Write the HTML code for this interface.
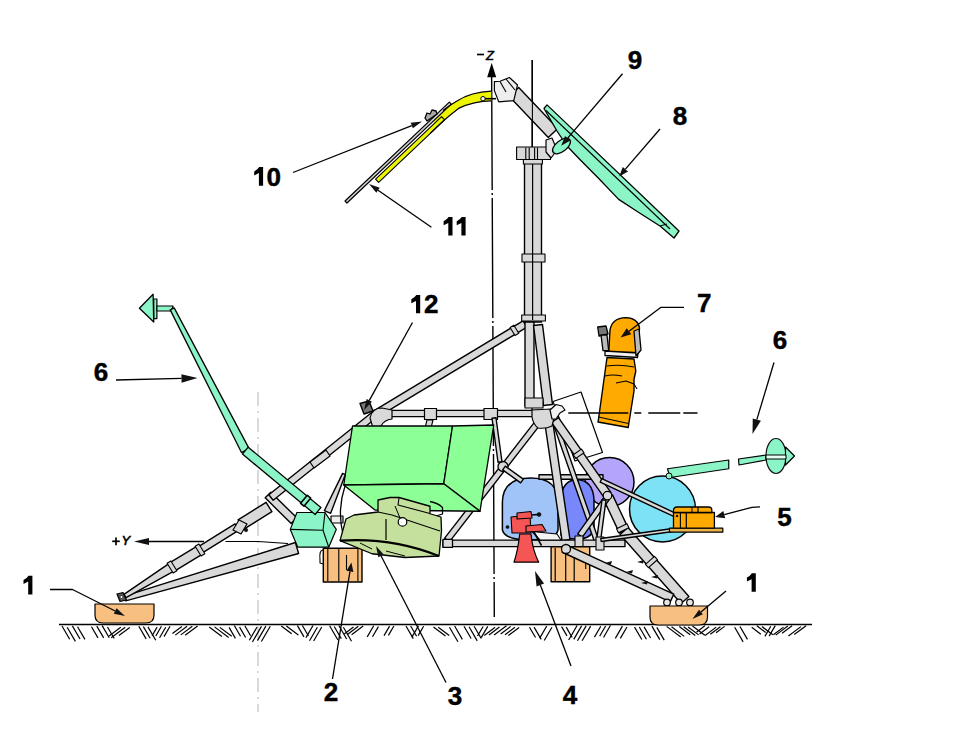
<!DOCTYPE html>
<html><head><meta charset="utf-8"><style>
html,body{margin:0;padding:0;background:#fff;}
svg{display:block;}
text{font-family:"Liberation Sans", sans-serif;fill:#000;}
</style></head><body>
<svg width="960" height="737" viewBox="0 0 960 737">
<rect width="960" height="737" fill="#fff"/>
<line x1="491.6" y1="70" x2="494.3" y2="617" stroke="#000" stroke-width="1.4" stroke-dasharray="120,3,2,3"/>
<polygon points="491.7,62.7 487.2,77.2 496.2,77.2" fill="#000"/>
<line x1="477" y1="54.5" x2="484" y2="54.5" stroke="#000" stroke-width="1.7" />
<text x="486" y="59.8" font-size="13" font-style="italic" stroke="#000" stroke-width="0.5">Z</text>
<line x1="532" y1="60" x2="532" y2="410" stroke="#000" stroke-width="1.2" stroke-dasharray="90,3,2,3"/>
<line x1="258" y1="392" x2="258" y2="712" stroke="#aaa" stroke-width="0.9" stroke-dasharray="14,5,2,5"/>
<polyline points="204,541.5 149,541.5" fill="none" stroke="#000" stroke-width="1.3" stroke-linejoin="round" />
<polygon points="134,541.5 149,538 149,545" fill="#111"/>
<polyline points="225.5,541.5 258,541.5 288,543.5" fill="none" stroke="#000" stroke-width="1.2" stroke-linejoin="round" />
<line x1="112.2" y1="541.3" x2="119.8" y2="541.3" stroke="#000" stroke-width="1.7" />
<line x1="116" y1="537.4" x2="116" y2="545.2" stroke="#000" stroke-width="1.7" />
<text x="121.5" y="545.3" font-size="13" font-style="italic" stroke="#000" stroke-width="0.6">Y</text>
<line x1="59" y1="624.5" x2="812" y2="624.5" stroke="#000" stroke-width="1.4" />
<line x1="62" y1="626.05" x2="69.67" y2="639.24" stroke="#000" stroke-width="1.2" />
<line x1="67.18" y1="627.28" x2="75.39" y2="641.39" stroke="#000" stroke-width="1.2" />
<line x1="72.36" y1="625.87" x2="80.03" y2="639.06" stroke="#000" stroke-width="1.2" />
<line x1="77.54" y1="626.73" x2="84.9" y2="639.38" stroke="#000" stroke-width="1.2" />
<line x1="91.49" y1="626.77" x2="97.95" y2="637.89" stroke="#000" stroke-width="1.2" />
<line x1="96.82" y1="626.12" x2="103.67" y2="637.9" stroke="#000" stroke-width="1.2" />
<line x1="102.15" y1="625.61" x2="109.22" y2="637.76" stroke="#000" stroke-width="1.2" />
<line x1="107.48" y1="626.97" x2="114.19" y2="638.52" stroke="#000" stroke-width="1.2" />
<line x1="120.74" y1="627.23" x2="109.06" y2="635.99" stroke="#000" stroke-width="1.2" />
<line x1="125.23" y1="627.28" x2="111.18" y2="637.82" stroke="#000" stroke-width="1.2" />
<line x1="129.73" y1="627.48" x2="118.94" y2="635.57" stroke="#000" stroke-width="1.2" />
<line x1="138.79" y1="626.21" x2="146.14" y2="638.85" stroke="#000" stroke-width="1.2" />
<line x1="143.37" y1="626.61" x2="150.18" y2="638.32" stroke="#000" stroke-width="1.2" />
<line x1="147.95" y1="626.87" x2="155.75" y2="640.28" stroke="#000" stroke-width="1.2" />
<line x1="157.09" y1="627.12" x2="152.07" y2="635.76" stroke="#000" stroke-width="1.2" />
<line x1="161.4" y1="626.32" x2="155.8" y2="635.95" stroke="#000" stroke-width="1.2" />
<line x1="165.71" y1="627.23" x2="159.56" y2="637.81" stroke="#000" stroke-width="1.2" />
<line x1="170.03" y1="626.28" x2="164.01" y2="636.63" stroke="#000" stroke-width="1.2" />
<line x1="181.87" y1="626.47" x2="172.4" y2="633.57" stroke="#000" stroke-width="1.2" />
<line x1="187.1" y1="626.26" x2="175.28" y2="635.12" stroke="#000" stroke-width="1.2" />
<line x1="192.33" y1="626.22" x2="180.8" y2="634.87" stroke="#000" stroke-width="1.2" />
<line x1="197.56" y1="625.99" x2="185.18" y2="635.27" stroke="#000" stroke-width="1.2" />
<line x1="209.24" y1="626.96" x2="221.91" y2="636.46" stroke="#000" stroke-width="1.2" />
<line x1="214.53" y1="626.88" x2="228.66" y2="637.48" stroke="#000" stroke-width="1.2" />
<line x1="219.82" y1="627.36" x2="231.76" y2="636.31" stroke="#000" stroke-width="1.2" />
<line x1="229.07" y1="627.42" x2="235.41" y2="638.33" stroke="#000" stroke-width="1.2" />
<line x1="234.33" y1="625.54" x2="240.51" y2="636.18" stroke="#000" stroke-width="1.2" />
<line x1="239.58" y1="627.11" x2="245.63" y2="637.52" stroke="#000" stroke-width="1.2" />
<line x1="244.83" y1="625.71" x2="250.63" y2="635.68" stroke="#000" stroke-width="1.2" />
<line x1="257.06" y1="626.95" x2="249.33" y2="640.25" stroke="#000" stroke-width="1.2" />
<line x1="261.47" y1="626.36" x2="252.41" y2="641.95" stroke="#000" stroke-width="1.2" />
<line x1="265.88" y1="626.17" x2="257.47" y2="640.63" stroke="#000" stroke-width="1.2" />
<line x1="270.28" y1="626.24" x2="261.38" y2="641.55" stroke="#000" stroke-width="1.2" />
<line x1="281.29" y1="625.96" x2="291.65" y2="633.73" stroke="#000" stroke-width="1.2" />
<line x1="286.36" y1="626.04" x2="298.36" y2="635.04" stroke="#000" stroke-width="1.2" />
<line x1="297.43" y1="625.63" x2="303.96" y2="636.86" stroke="#000" stroke-width="1.2" />
<line x1="302.36" y1="625.52" x2="308.46" y2="636" stroke="#000" stroke-width="1.2" />
<line x1="312.99" y1="625.55" x2="305.98" y2="637.6" stroke="#000" stroke-width="1.2" />
<line x1="317.38" y1="627.21" x2="309.53" y2="640.7" stroke="#000" stroke-width="1.2" />
<line x1="321.76" y1="627.06" x2="313.62" y2="641.06" stroke="#000" stroke-width="1.2" />
<line x1="329.62" y1="625.68" x2="337.92" y2="639.95" stroke="#000" stroke-width="1.2" />
<line x1="334.22" y1="626.5" x2="341.28" y2="638.63" stroke="#000" stroke-width="1.2" />
<line x1="338.82" y1="625.56" x2="346.65" y2="639.02" stroke="#000" stroke-width="1.2" />
<line x1="343.42" y1="627.29" x2="351.54" y2="641.25" stroke="#000" stroke-width="1.2" />
<line x1="353.51" y1="626.94" x2="344.23" y2="633.9" stroke="#000" stroke-width="1.2" />
<line x1="358.34" y1="626.27" x2="347.1" y2="634.7" stroke="#000" stroke-width="1.2" />
<line x1="363.17" y1="626.04" x2="351.59" y2="634.73" stroke="#000" stroke-width="1.2" />
<line x1="373.69" y1="625.76" x2="367.23" y2="636.87" stroke="#000" stroke-width="1.2" />
<line x1="378.39" y1="626.59" x2="372.51" y2="636.71" stroke="#000" stroke-width="1.2" />
<line x1="389.56" y1="626.17" x2="384.04" y2="635.67" stroke="#000" stroke-width="1.2" />
<line x1="393.86" y1="626.01" x2="388.43" y2="635.35" stroke="#000" stroke-width="1.2" />
<line x1="405.99" y1="626.06" x2="413.29" y2="638.63" stroke="#000" stroke-width="1.2" />
<line x1="410.65" y1="625.95" x2="416.61" y2="636.21" stroke="#000" stroke-width="1.2" />
<line x1="418.42" y1="625.88" x2="411.76" y2="637.33" stroke="#000" stroke-width="1.2" />
<line x1="423.61" y1="626.27" x2="418.14" y2="635.67" stroke="#000" stroke-width="1.2" />
<line x1="433.45" y1="627.08" x2="445.48" y2="636.1" stroke="#000" stroke-width="1.2" />
<line x1="438.27" y1="627.25" x2="449.21" y2="635.46" stroke="#000" stroke-width="1.2" />
<line x1="449.46" y1="627.22" x2="457.91" y2="641.76" stroke="#000" stroke-width="1.2" />
<line x1="454.64" y1="626.06" x2="462.35" y2="639.34" stroke="#000" stroke-width="1.2" />
<line x1="464" y1="626.26" x2="471.14" y2="638.53" stroke="#000" stroke-width="1.2" />
<line x1="469.05" y1="626.78" x2="477.24" y2="640.86" stroke="#000" stroke-width="1.2" />
<line x1="474.1" y1="626.24" x2="481.2" y2="638.46" stroke="#000" stroke-width="1.2" />
<line x1="483.1" y1="626.45" x2="477.55" y2="636" stroke="#000" stroke-width="1.2" />
<line x1="487.76" y1="626.35" x2="481.2" y2="637.65" stroke="#000" stroke-width="1.2" />
<line x1="495.1" y1="627.33" x2="484.26" y2="635.46" stroke="#000" stroke-width="1.2" />
<line x1="499.48" y1="627.09" x2="488.96" y2="634.98" stroke="#000" stroke-width="1.2" />
<line x1="506.51" y1="625.69" x2="494.1" y2="635.01" stroke="#000" stroke-width="1.2" />
<line x1="510.72" y1="626.38" x2="500.67" y2="633.92" stroke="#000" stroke-width="1.2" />
<line x1="514.92" y1="627.2" x2="504.97" y2="634.67" stroke="#000" stroke-width="1.2" />
<line x1="519.13" y1="627.46" x2="508.38" y2="635.52" stroke="#000" stroke-width="1.2" />
<line x1="529.5" y1="627.22" x2="535.5" y2="637.53" stroke="#000" stroke-width="1.2" />
<line x1="534.07" y1="627.15" x2="541.2" y2="639.42" stroke="#000" stroke-width="1.2" />
<line x1="546.77" y1="625.99" x2="539.7" y2="638.15" stroke="#000" stroke-width="1.2" />
<line x1="551.95" y1="627.24" x2="544.23" y2="640.52" stroke="#000" stroke-width="1.2" />
<line x1="561.6" y1="626.59" x2="567" y2="635.89" stroke="#000" stroke-width="1.2" />
<line x1="566.18" y1="627.15" x2="572.19" y2="637.5" stroke="#000" stroke-width="1.2" />
<line x1="577.1" y1="625.56" x2="568.68" y2="640.05" stroke="#000" stroke-width="1.2" />
<line x1="581.62" y1="625.87" x2="573.74" y2="639.42" stroke="#000" stroke-width="1.2" />
<line x1="586.13" y1="625.91" x2="577.5" y2="640.75" stroke="#000" stroke-width="1.2" />
<line x1="590.65" y1="626.08" x2="582.08" y2="640.82" stroke="#000" stroke-width="1.2" />
<line x1="600.79" y1="626.21" x2="594.44" y2="637.13" stroke="#000" stroke-width="1.2" />
<line x1="605.6" y1="625.99" x2="599.63" y2="636.26" stroke="#000" stroke-width="1.2" />
<line x1="610.41" y1="625.53" x2="603.49" y2="637.43" stroke="#000" stroke-width="1.2" />
<line x1="622.4" y1="626.15" x2="615.32" y2="638.33" stroke="#000" stroke-width="1.2" />
<line x1="626.96" y1="626.94" x2="620.32" y2="638.37" stroke="#000" stroke-width="1.2" />
<line x1="634.54" y1="627.1" x2="641.79" y2="639.57" stroke="#000" stroke-width="1.2" />
<line x1="639.3" y1="627" x2="646.41" y2="639.23" stroke="#000" stroke-width="1.2" />
<line x1="644.06" y1="626.83" x2="650.55" y2="638" stroke="#000" stroke-width="1.2" />
<line x1="651.93" y1="626.14" x2="659.77" y2="639.62" stroke="#000" stroke-width="1.2" />
<line x1="656.83" y1="627.36" x2="664.24" y2="640.1" stroke="#000" stroke-width="1.2" />
<line x1="666.61" y1="626.36" x2="680.77" y2="636.98" stroke="#000" stroke-width="1.2" />
<line x1="671.52" y1="626.85" x2="684.23" y2="636.39" stroke="#000" stroke-width="1.2" />
<line x1="679.3" y1="626.6" x2="690.22" y2="634.79" stroke="#000" stroke-width="1.2" />
<line x1="683.69" y1="626.73" x2="695.27" y2="635.41" stroke="#000" stroke-width="1.2" />
<line x1="688.08" y1="626.95" x2="698.65" y2="634.87" stroke="#000" stroke-width="1.2" />
<line x1="692.47" y1="626.05" x2="704.85" y2="635.34" stroke="#000" stroke-width="1.2" />
<line x1="704.85" y1="625.84" x2="696.43" y2="632.16" stroke="#000" stroke-width="1.2" />
<line x1="709.09" y1="626.83" x2="699.59" y2="633.96" stroke="#000" stroke-width="1.2" />
<line x1="716.19" y1="627.13" x2="705.1" y2="635.45" stroke="#000" stroke-width="1.2" />
<line x1="720.41" y1="626.69" x2="710.31" y2="634.27" stroke="#000" stroke-width="1.2" />
<line x1="724.63" y1="626.36" x2="716.02" y2="632.82" stroke="#000" stroke-width="1.2" />
<line x1="734.68" y1="627.32" x2="743.12" y2="641.83" stroke="#000" stroke-width="1.2" />
<line x1="739.96" y1="626.5" x2="747.47" y2="639.42" stroke="#000" stroke-width="1.2" />
<line x1="751.71" y1="627.32" x2="760.85" y2="634.18" stroke="#000" stroke-width="1.2" />
<line x1="756.82" y1="625.78" x2="765.69" y2="632.44" stroke="#000" stroke-width="1.2" />
<line x1="761.93" y1="626.6" x2="772.86" y2="634.8" stroke="#000" stroke-width="1.2" />
<line x1="770.77" y1="626.3" x2="764.89" y2="636.41" stroke="#000" stroke-width="1.2" />
<line x1="775.24" y1="625.65" x2="769.13" y2="636.16" stroke="#000" stroke-width="1.2" />
<line x1="783.54" y1="627.13" x2="773.42" y2="634.72" stroke="#000" stroke-width="1.2" />
<line x1="787.81" y1="626.05" x2="775.71" y2="635.12" stroke="#000" stroke-width="1.2" />
<line x1="792.09" y1="625.72" x2="782.09" y2="633.22" stroke="#000" stroke-width="1.2" />
<line x1="800.93" y1="626.62" x2="788.44" y2="635.99" stroke="#000" stroke-width="1.2" />
<line x1="806.11" y1="625.69" x2="794.26" y2="634.59" stroke="#000" stroke-width="1.2" />
<polygon points="553,401.5 581,392 602.5,452.5 575,461" fill="none" stroke="#000" stroke-width="1.2" stroke-linejoin="round" />
<circle cx="609.5" cy="482" r="24.5" fill="#b4a4fa" stroke="#000" stroke-width="1.5"/>
<circle cx="662.5" cy="509" r="33" fill="#7de2f5" stroke="#000" stroke-width="1.5"/>
<path d="M561,535 L560.6,500 Q562,479.7 577,479.7 Q593,480 594,500 L594,528 Q592,539 577,539 Q563,539 561,535 Z" fill="#7888fa" stroke="#000" stroke-width="1.5" stroke-linejoin="round" />
<path d="M502.4,530 L502.4,502 Q503,478 530.6,478 Q558,478 558,502 L558,530 Q556,540 530,540 Q505,540 502.4,530 Z" fill="#a0c4f8" stroke="#000" stroke-width="1.5" stroke-linejoin="round" />
<polygon points="667.5,468.75 728.75,460 728.75,468.75 670,477.5" fill="#8cf5c8" stroke="#000" stroke-width="1.2" stroke-linejoin="round" />
<circle cx="669" cy="476" r="3" fill="#8cf5c8" stroke="#000" stroke-width="1"/>
<polygon points="738.5,459 766,455 766,460 739,465" fill="#8cf5c8" stroke="#000" stroke-width="1.2" stroke-linejoin="round" />
<ellipse cx="776" cy="456" rx="10" ry="17.5" fill="#8cf5c8" stroke="#111" stroke-width="1.2"/>
<polygon points="785.5,447 794.5,456 785.5,465" fill="#8cf5c8" stroke="#000" stroke-width="1.2" stroke-linejoin="round" />
<polygon points="766,455 786,455 786,459 766,459" fill="#e8fff4" stroke="#000" stroke-width="1.0" stroke-linejoin="round" />
<polygon points="125.7,600.9 298.62,553.52 295.38,542.48 124.3,596.1" fill="#d9d9d9" stroke="#000" stroke-width="1.4" stroke-linejoin="round" />
<polygon points="126.05,597.7 174.36,570.83 169.64,563.17 123.95,594.3" fill="#d9d9d9" stroke="#000" stroke-width="1.4" stroke-linejoin="round" />
<polygon points="117,594 123,592.5 126.5,600 120,601.5" fill="#555" stroke="#000" stroke-width="1.2" stroke-linejoin="round" />
<circle cx="121.5" cy="597" r="1.5" fill="#fff" stroke="#000" stroke-width="0.6"/>
<polygon points="174.47,571.06 202.47,554.06 197.53,545.94 169.53,562.94" fill="#d9d9d9" stroke="#000" stroke-width="1.4" stroke-linejoin="round" />
<polygon points="201.98,553.18 238.98,530.18 235.02,523.82 198.02,546.82" fill="#d9d9d9" stroke="#000" stroke-width="1.4" stroke-linejoin="round" />
<polygon points="243.91,529.16 271.91,511.66 266.09,502.34 238.09,519.84" fill="#d9d9d9" stroke="#000" stroke-width="1.4" stroke-linejoin="round" />
<polygon points="173.15,573.05 176.89,570.74 170.85,560.95 167.11,563.26" fill="#d9d9d9" stroke="#000" stroke-width="1.1" stroke-linejoin="round" />
<polygon points="201.1,556.06 204.86,553.77 198.9,543.94 195.14,546.23" fill="#d9d9d9" stroke="#000" stroke-width="1.1" stroke-linejoin="round" />
<polygon points="233,530 239,520 247,524 241,534" fill="#d9d9d9" stroke="#000" stroke-width="1.2" stroke-linejoin="round" />
<circle cx="246" cy="530" r="1.8" fill="#111" stroke="#000" stroke-width="0.5"/>
<polygon points="265.19,497.84 291.19,523.54 296.81,517.86 270.81,492.16" fill="#d9d9d9" stroke="#000" stroke-width="1.4" stroke-linejoin="round" />
<polygon points="370.82,413.27 268.82,494.77 273.18,500.23 375.18,418.73" fill="#d9d9d9" stroke="#000" stroke-width="1.4" stroke-linejoin="round" />
<polygon points="310,462 326,450 330,456 314,468" fill="#d9d9d9" stroke="#000" stroke-width="1.2" stroke-linejoin="round" />
<polygon points="375.94,418.21 526.94,327.21 523.06,320.79 372.06,411.79" fill="#d9d9d9" stroke="#000" stroke-width="1.4" stroke-linejoin="round" />
<polygon points="515,335.57 518.77,333.3 513.86,325.17 510.09,327.44" fill="#d9d9d9" stroke="#000" stroke-width="1.1" stroke-linejoin="round" />
<polygon points="372,416.65 540,416.65 540,410.35 372,410.35" fill="#d9d9d9" stroke="#000" stroke-width="1.4" stroke-linejoin="round" />
<polygon points="424.5,408.5 436.5,408.5 436.5,419.5 424.5,419.5" fill="#d9d9d9" stroke="#000" stroke-width="1.2" stroke-linejoin="round" />
<polygon points="427,420 433,420 431,428 425,428" fill="#d9d9d9" stroke="#000" stroke-width="1.1" stroke-linejoin="round" />
<polygon points="484,408.5 497.5,408.5 497.5,419.5 484,419.5" fill="#d9d9d9" stroke="#000" stroke-width="1.2" stroke-linejoin="round" />
<path d="M370,418 Q372,408 382,408 L392,410 L392,419 Q384,420 381,426 L373,428 Z" fill="#d9d9d9" stroke="#000" stroke-width="1.2" stroke-linejoin="round" />
<polygon points="360,403.5 369,401 373,411 364,414" fill="#777" stroke="#000" stroke-width="1.4" stroke-linejoin="round" />
<polygon points="537.63,418.16 444.63,538.16 449.37,541.84 542.37,421.84" fill="#d9d9d9" stroke="#000" stroke-width="1.4" stroke-linejoin="round" />
<circle cx="503" cy="466.5" r="5" fill="#d9d9d9" stroke="#000" stroke-width="1.3"/>
<polygon points="502.68,469.82 520.68,482.82 523.32,479.18 505.32,466.18" fill="#d9d9d9" stroke="#000" stroke-width="1.4" stroke-linejoin="round" />
<polygon points="492.02,418.27 498.02,462.27 501.98,461.73 495.98,417.73" fill="#d9d9d9" stroke="#000" stroke-width="1.4" stroke-linejoin="round" />
<polygon points="539,479.25 603,479.25 603,474.75 539,474.75" fill="#d9d9d9" stroke="#000" stroke-width="1.4" stroke-linejoin="round" />
<polygon points="545.04,424.58 562.04,540.58 569.96,539.42 552.96,423.42" fill="#d9d9d9" stroke="#000" stroke-width="1.4" stroke-linejoin="round" />
<polygon points="553.88,425.74 595.88,545.74 600.12,544.26 558.12,424.26" fill="#d9d9d9" stroke="#000" stroke-width="1.4" stroke-linejoin="round" />
<polygon points="551.52,422.44 604.02,497.44 610.98,492.56 558.48,417.56" fill="#d9d9d9" stroke="#000" stroke-width="1.4" stroke-linejoin="round" />
<polygon points="573.27,454.82 575.79,458.42 583.98,452.68 581.46,449.08" fill="#d9d9d9" stroke="#000" stroke-width="1.1" stroke-linejoin="round" />
<polygon points="603.48,499.13 619.48,533.13 628.52,528.87 612.52,494.87" fill="#d9d9d9" stroke="#000" stroke-width="1.4" stroke-linejoin="round" />
<polygon points="620.07,534.48 681.07,603.48 688.93,596.52 627.93,527.52" fill="#d9d9d9" stroke="#000" stroke-width="1.4" stroke-linejoin="round" />
<polygon points="616.58,528.74 618.45,532.72 628.86,527.82 626.99,523.84" fill="#d9d9d9" stroke="#000" stroke-width="1.1" stroke-linejoin="round" />
<polygon points="645.5,564.38 648.41,567.67 657.4,559.72 654.49,556.43" fill="#d9d9d9" stroke="#000" stroke-width="1.1" stroke-linejoin="round" />
<polygon points="604.29,496.84 577.69,533.84 582.31,537.16 608.91,500.16" fill="#d9d9d9" stroke="#000" stroke-width="1.4" stroke-linejoin="round" />
<polygon points="602.02,499.74 596.02,544.74 599.98,545.26 605.98,500.26" fill="#d9d9d9" stroke="#000" stroke-width="1.4" stroke-linejoin="round" />
<circle cx="607.5" cy="495.6" r="4.3" fill="#d9d9d9" stroke="#000" stroke-width="1.2"/>
<polygon points="443,546.65 625,546.65 625,540.15 443,540.15" fill="#d9d9d9" stroke="#000" stroke-width="1.4" stroke-linejoin="round" />
<polygon points="443,539.4 452.5,539.4 452.5,547.4 443,547.4" fill="#d9d9d9" stroke="#000" stroke-width="1.3" stroke-linejoin="round" />
<polygon points="575,536 583,536 583,550 575,550" fill="#d9d9d9" stroke="#000" stroke-width="1.1" stroke-linejoin="round" />
<polygon points="596,537 604,537 604,550 596,550" fill="#d9d9d9" stroke="#000" stroke-width="1.1" stroke-linejoin="round" />
<polygon points="551.1,546.8 589.7,546.8 589.7,581.7 551.1,581.7" fill="#f8c080" stroke="#000" stroke-width="1.4" stroke-linejoin="round" />
<line x1="555.2" y1="548" x2="555.2" y2="581" stroke="#000" stroke-width="1.2" />
<line x1="565.7" y1="548" x2="565.7" y2="581" stroke="#000" stroke-width="1.2" />
<line x1="574.2" y1="548" x2="574.2" y2="581" stroke="#000" stroke-width="1.2" />
<line x1="585.7" y1="562" x2="585.7" y2="569" stroke="#000" stroke-width="1.1" />
<polygon points="562.23,552.26 670.23,601.86 673.77,594.14 565.77,544.54" fill="#d9d9d9" stroke="#000" stroke-width="1.4" stroke-linejoin="round" />
<circle cx="566" cy="549" r="4.5" fill="#d9d9d9" stroke="#000" stroke-width="1.3"/>
<circle cx="667" cy="602.5" r="3.3" fill="#e6e6e6" stroke="#000" stroke-width="1.2"/>
<circle cx="679" cy="602.5" r="3.3" fill="#e6e6e6" stroke="#000" stroke-width="1.2"/>
<circle cx="690" cy="602.5" r="3.3" fill="#e6e6e6" stroke="#000" stroke-width="1.2"/>
<polygon points="605,563 612,561 611,564.5" fill="#111"/>
<polygon points="626,572 633,570 632,573.5" fill="#111"/>
<polygon points="637,562 644,560 643,563.5" fill="#111"/>
<polygon points="641,583 648,581 647,584.5" fill="#111"/>
<polygon points="651,577 658,575 657,578.5" fill="#111"/>
<polygon points="600.2,482.12 674.2,516.72 675.8,513.28 601.8,478.68" fill="#d9d9d9" stroke="#000" stroke-width="1.4" stroke-linejoin="round" />
<polygon points="601.21,541.49 673.21,531.49 672.79,528.51 600.79,538.51" fill="#d9d9d9" stroke="#000" stroke-width="1.4" stroke-linejoin="round" />
<polygon points="524.5,162 524.5,322 541.5,322 541.5,162" fill="#d9d9d9" stroke="#000" stroke-width="1.4" stroke-linejoin="round" />
<polygon points="525,322 525,406 534,406 534,322" fill="#d9d9d9" stroke="#000" stroke-width="1.4" stroke-linejoin="round" />
<polygon points="533.53,325.56 543.53,405.56 552.47,404.44 542.47,324.44" fill="#d9d9d9" stroke="#000" stroke-width="1.4" stroke-linejoin="round" />
<polygon points="521.7,315 545.4,315 545.4,321 521.7,321" fill="#d9d9d9" stroke="#000" stroke-width="1.1" stroke-linejoin="round" />
<polygon points="522,254 545,254 545,262 522,262" fill="#d9d9d9" stroke="#000" stroke-width="1.1" stroke-linejoin="round" />
<polygon points="525,398 543,398 543,408 525,408" fill="#d9d9d9" stroke="#000" stroke-width="1.1" stroke-linejoin="round" />
<line x1="532.6" y1="162" x2="532.6" y2="320" stroke="#000" stroke-width="1.2" />
<path d="M532,410 L551,409 Q555,411 554,418 L552,426 Q546,429 538,428 Q533,424 532,417 Z" fill="#d9d9d9" stroke="#000" stroke-width="1.2" stroke-linejoin="round" />
<polygon points="550,410 556,404.5 562,406 565,410 560,413 556,419 552,419" fill="#f2f2f2" stroke="#000" stroke-width="1.2" stroke-linejoin="round" />
<polygon points="516.6,147 550.5,147 550.5,159.5 516.6,159.5" fill="#d9d9d9" stroke="#000" stroke-width="1.1" stroke-linejoin="round" />
<polygon points="523.4,159.5 542.4,159.5 542.4,164 523.4,164" fill="#d9d9d9" stroke="#000" stroke-width="1.1" stroke-linejoin="round" />
<line x1="525.8" y1="147.5" x2="525.8" y2="160" stroke="#000" stroke-width="1.1" />
<line x1="529.2" y1="147.5" x2="529.2" y2="160" stroke="#000" stroke-width="1.1" />
<line x1="534.6" y1="147.5" x2="534.6" y2="160" stroke="#000" stroke-width="1.1" />
<line x1="537.5" y1="147.5" x2="537.5" y2="160" stroke="#000" stroke-width="1.1" />
<polygon points="509.29,96.48 548.29,137.48 557.71,128.52 518.71,87.52" fill="#d9d9d9" stroke="#000" stroke-width="1.4" stroke-linejoin="round" />
<polygon points="494.4,81.6 500,81.25 509.4,77.5 517.5,85 513.75,100.6 498.75,101.9 494.4,90.6" fill="#eeeeee" stroke="#000" stroke-width="1.2" stroke-linejoin="round" />
<line x1="500" y1="81.5" x2="506" y2="92" stroke="#000" stroke-width="1.1" />
<line x1="506" y1="79" x2="515" y2="90" stroke="#000" stroke-width="1.1" />
<line x1="532.4" y1="60" x2="532.4" y2="147" stroke="#000" stroke-width="1.1" />
<polygon points="352.5,426 452.5,426 443.75,483.75 343.75,485" fill="#8cff96" stroke="#000" stroke-width="1.3" stroke-linejoin="round" />
<polygon points="452.5,426 493.75,425 480,511.25 443.75,483.75" fill="#8cff96" stroke="#000" stroke-width="1.3" stroke-linejoin="round" />
<polygon points="343.75,485 443.75,483.75 480,511.25 375,510" fill="#8cff96" stroke="#000" stroke-width="1.3" stroke-linejoin="round" />
<polygon points="342.62,473.4 324.38,510.65 330.62,513.35 345.38,474.6" fill="#d9d9d9" stroke="#000" stroke-width="1.4" stroke-linejoin="round" />
<polygon points="331,516 343,516 343,523 331,523" fill="#eee" stroke="#000" stroke-width="1.2" stroke-linejoin="round" />
<polygon points="296.9,512.5 325,512.5 336.25,529.4 328.75,547.2 297.8,547.2 290.3,529.4" fill="#8cf5c8" stroke="#000" stroke-width="1.2" stroke-linejoin="round" />
<polyline points="290.3,529.4 323,530.3 325,512.5" fill="none" stroke="#000" stroke-width="1.1" stroke-linejoin="round" />
<line x1="323" y1="530.3" x2="328.75" y2="547.2" stroke="#000" stroke-width="1.1" />
<polygon points="156.9,299 153.75,299 153.75,318.6 156.9,318.6" fill="#8cf5c8" stroke="#000" stroke-width="1.2" stroke-linejoin="round" />
<polygon points="139.4,308.3 153.1,294.25 153.75,322" fill="#8cf5c8" stroke="#000" stroke-width="1.3" stroke-linejoin="round" />
<polygon points="156.9,306 173.1,306 171.5,311 156.9,311" fill="#8cf5c8" stroke="#000" stroke-width="1.2" stroke-linejoin="round" />
<polygon points="170.24,309.91 241.48,452.57 249.12,448.63 174.16,307.89" fill="#8cf5c8" stroke="#000" stroke-width="1.3" stroke-linejoin="round" />
<polygon points="242.42,454.06 315.12,514.46 320.88,507.54 248.18,447.14" fill="#8cf5c8" stroke="#000" stroke-width="1.3" stroke-linejoin="round" />
<polygon points="300.59,503.36 303.98,506.18 310.69,498.1 307.3,495.29" fill="#8cf5c8" stroke="#000" stroke-width="1.6" stroke-linejoin="round" />
<polygon points="323.3,548.3 362,548.3 362,582 323.3,582" fill="#f8c080" stroke="#000" stroke-width="1.4" stroke-linejoin="round" />
<line x1="327.8" y1="549" x2="327.8" y2="581" stroke="#000" stroke-width="1.1" />
<line x1="338.8" y1="549" x2="338.8" y2="581" stroke="#000" stroke-width="1.1" />
<line x1="357.9" y1="549" x2="357.9" y2="581" stroke="#000" stroke-width="1.1" />
<line x1="346.5" y1="555" x2="346.5" y2="570" stroke="#000" stroke-width="1.1" />
<path d="M323,550 Q319,550 320,560 L320,563 L323,564" fill="none" stroke="#000" stroke-width="1.1" stroke-linejoin="round" />
<path d="M95,604 L154,604 L154,615 Q154,623 146,623 L103,623 Q95,623 95,615 Z" fill="#f8c080" stroke="#000" stroke-width="1.2" stroke-linejoin="round" />
<path d="M650,606 L707.5,606 L707.5,617 Q707.5,625 699,625 L658,625 Q650,625 650,617 Z" fill="#f8c080" stroke="#000" stroke-width="1.2" stroke-linejoin="round" />
<path d="M345,486 Q337,510 343,534" fill="none" stroke="#000" stroke-width="1.3" stroke-linejoin="round" />
<path d="M430,501.5 Q438,503 442.5,507.5 L442.5,514 L436,516" fill="none" stroke="#000" stroke-width="1.3" stroke-linejoin="round" />
<polygon points="340,540.6 346,519 354,515 370,513 378,512 378,500 390,497.5 399,497.5 430,506.25 430,513.75 441,517 441.5,531 439,556 405,557.5 372,553.75" fill="#c4e09c" stroke="#000" stroke-width="1.3" stroke-linejoin="round" />
<path d="M340,540.6 Q392,537 439,556" fill="none" stroke="#000" stroke-width="2.2" stroke-linejoin="round" />
<line x1="386" y1="519" x2="386" y2="540" stroke="#000" stroke-width="1.2" />
<polyline points="378,512 392,515 440,531" fill="none" stroke="#000" stroke-width="1.1" stroke-linejoin="round" />
<polyline points="399,498 398,505 430,513.5" fill="none" stroke="#000" stroke-width="1.1" stroke-linejoin="round" />
<line x1="395" y1="506" x2="400" y2="518" stroke="#000" stroke-width="1" />
<circle cx="402.5" cy="521.9" r="4.3" fill="#fff" stroke="#000" stroke-width="1.2"/>
<line x1="360" y1="543" x2="372" y2="549" stroke="#000" stroke-width="1" />
<line x1="386" y1="551" x2="405" y2="556" stroke="#000" stroke-width="1" />
<polygon points="532,531.5 557,534 561,540 540,540" fill="#f4f4f4" stroke="#000" stroke-width="1.1" stroke-linejoin="round" />
<line x1="534" y1="532" x2="541.5" y2="545.6" stroke="#000" stroke-width="1.6" />
<path d="M519.7,534 L531,534 Q532.5,550 538.7,562.2 L514,562.2 Q518,550 519.7,534 Z" fill="#f55555" stroke="#000" stroke-width="1.2" stroke-linejoin="round" />
<polygon points="511,517 530,515 531,533 512,533" fill="#f55555" stroke="#000" stroke-width="1.1" stroke-linejoin="round" />
<polygon points="526,526 542,524.5 546,531 526,532" fill="#f55555" stroke="#000" stroke-width="1.1" stroke-linejoin="round" />
<polygon points="517,513 531,511.5 532,518 517,519" fill="#f55555" stroke="#000" stroke-width="1.1" stroke-linejoin="round" />
<line x1="531" y1="515" x2="538" y2="514.5" stroke="#000" stroke-width="1.3" />
<circle cx="539" cy="514.5" r="2" fill="#111" stroke="#000" stroke-width="0.5"/>
<circle cx="507.5" cy="527" r="1.6" fill="#111" stroke="#000" stroke-width="0.5"/>
<polygon points="669.5,528.2 722.8,528.2 722.8,532.2 669.5,532.2" fill="#e9b24a" stroke="#000" stroke-width="1.2" stroke-linejoin="round" />
<polygon points="673.5,512.5 714.4,512.5 714.4,528.2 673.5,528.2" fill="#ffaa00" stroke="#000" stroke-width="1.3" stroke-linejoin="round" />
<path d="M673.5,512.5 L673.5,510 Q674,507 677,507 L708.5,507 Q711.8,507 711.8,510 L711.8,512.5 Z" fill="#ffaa00" stroke="#000" stroke-width="1.3" stroke-linejoin="round" />
<line x1="680.4" y1="512.5" x2="680.4" y2="528.2" stroke="#000" stroke-width="1.1" />
<line x1="686.3" y1="512.5" x2="686.3" y2="528.2" stroke="#000" stroke-width="1.2" />
<line x1="692" y1="507" x2="692" y2="512.5" stroke="#000" stroke-width="1.0" />
<line x1="698" y1="507" x2="698" y2="512.5" stroke="#000" stroke-width="1.2" />
<circle cx="677" cy="516" r="1.1" fill="#000" stroke="#000" stroke-width="0.3"/>
<path d="M607,357.5 L598.6,418.5 L598,422 L628.2,427.5 L634,391 L634,379.5 L635.8,371 L634,359 Z" fill="#ffaa00" stroke="#000" stroke-width="1.4" stroke-linejoin="round" />
<path d="M608.7,352.4 L610,330 Q612,318 625.7,317.6 Q638,318 639.5,328 L637.5,352.4 Z" fill="#ffaa00" stroke="#000" stroke-width="1.4" stroke-linejoin="round" />
<polygon points="605,351 638,353 637.5,357.5 605,355.5" fill="#f0f0f0" stroke="#000" stroke-width="1.3" stroke-linejoin="round" />
<polygon points="597.7,327 606,326 608,334 599,336" fill="#777" stroke="#000" stroke-width="1.3" stroke-linejoin="round" />
<polygon points="601,335 607,335 608.7,350.7 603,350.7" fill="#bbb" stroke="#000" stroke-width="1.3" stroke-linejoin="round" />
<polygon points="634,331 639,329 641,350 636,356" fill="#bbb" stroke="#000" stroke-width="1.3" stroke-linejoin="round" />
<path d="M607,366 Q620,364 634,367" fill="none" stroke="#000" stroke-width="1.1" stroke-linejoin="round" />
<path d="M605,376 Q612,374 622,376" fill="none" stroke="#000" stroke-width="1.1" stroke-linejoin="round" />
<polyline points="616,383 626,381 634,384 637,389" fill="none" stroke="#000" stroke-width="1.1" stroke-linejoin="round" />
<line x1="598.5" y1="417" x2="628.5" y2="423.5" stroke="#000" stroke-width="1.1" />
<line x1="568.3" y1="413" x2="697.5" y2="413" stroke="#000" stroke-width="1.3" stroke-dasharray="60,6,7,7,32,3,14.5"/>
<polygon points="544,108.5 547,104.9 679,231 674,238 660,226 638.4,212.2 618.7,199.4 599,178.7 579.4,159 567,146 557,131 546,112" fill="#8cf5c8" stroke="#000" stroke-width="1.3" stroke-linejoin="round" />
<line x1="546" y1="110.5" x2="670" y2="229" stroke="#000" stroke-width="1.1" />
<line x1="660" y1="226" x2="667" y2="224" stroke="#000" stroke-width="1.1" />
<polygon points="546,140 552,138 557,150 551,158 546,152" fill="#e6e6e6" stroke="#000" stroke-width="1.2" stroke-linejoin="round" />
<ellipse cx="561.5" cy="146" rx="10.5" ry="5.5" transform="rotate(-38 561.5 146)" fill="#8cf5c8" stroke="#000" stroke-width="1.3"/>
<path d="M430,133.7 Q442,121 458.5,108.4 Q474,101 491.3,100.9 L491.3,91.2 Q471,92 457,101 Q450,105 443,109 L438,114 L432,126 Z" fill="#eef500" stroke="#000" stroke-width="0" stroke-linejoin="round" />
<polygon points="346.96,203.02 451.26,104.12 449.34,102.08 345.04,200.98" fill="#d0d0d0" stroke="#000" stroke-width="1.2" stroke-linejoin="round" />
<polygon points="378.61,182.4 444.61,119.8 441.59,116.6 375.59,179.2" fill="#eef500" stroke="#000" stroke-width="1.1" stroke-linejoin="round" />
<path d="M430,133.7 Q442,121 458.5,108.4 Q474,101 491.3,100.9" fill="none" stroke="#000" stroke-width="1.2" stroke-linejoin="round" />
<path d="M491.3,91.2 Q471,92 457,101 Q450,105 443,110.5" fill="none" stroke="#000" stroke-width="1.2" stroke-linejoin="round" />
<polygon points="425,118 427,113 430,114 432,110 436,111 437,114 427,121" fill="#aaa" stroke="#000" stroke-width="1.3" stroke-linejoin="round" />
<circle cx="483" cy="98.7" r="2.2" fill="#fff" stroke="#000" stroke-width="1.0"/>
<line x1="485" y1="98.7" x2="496" y2="98.7" stroke="#000" stroke-width="1.6" />
<polyline points="50,589.5 72.5,589.5 115.18,611.04" fill="none" stroke="#000" stroke-width="1.3" stroke-linejoin="round" />
<polygon points="125,616 113.83,613.72 116.53,608.37" fill="#111"/>
<polyline points="726,591 700.94,611.95" fill="none" stroke="#000" stroke-width="1.3" stroke-linejoin="round" />
<polygon points="692.5,619 699.02,609.64 702.86,614.25" fill="#111"/>
<polyline points="332.5,679 349.96,571.38" fill="none" stroke="#000" stroke-width="1.3" stroke-linejoin="round" />
<polygon points="351.4,562.5 353.41,571.94 346.5,570.82" fill="#111"/>
<polyline points="446,682.5 381.02,555.79" fill="none" stroke="#000" stroke-width="1.3" stroke-linejoin="round" />
<polygon points="376,546 383.69,554.42 378.35,557.16" fill="#111"/>
<polyline points="571,666 540.32,585.03" fill="none" stroke="#000" stroke-width="1.3" stroke-linejoin="round" />
<polygon points="535,571 544.06,583.61 536.57,586.44" fill="#111"/>
<polyline points="760,506.8 752,507.3 724.29,514.58" fill="none" stroke="#000" stroke-width="1.3" stroke-linejoin="round" />
<polygon points="715.1,517 723.33,510.96 725.24,518.21" fill="#111"/>
<polyline points="116,380 181.5,378.39" fill="none" stroke="#000" stroke-width="1.3" stroke-linejoin="round" />
<polygon points="197.5,378 181.61,382.64 181.4,374.14" fill="#111"/>
<polyline points="774,362.5 756.82,419.64" fill="none" stroke="#000" stroke-width="1.3" stroke-linejoin="round" />
<polygon points="752.5,434 752.75,418.41 760.89,420.86" fill="#111"/>
<polyline points="684,307.3 661,307.3 629.01,331.21" fill="none" stroke="#000" stroke-width="1.3" stroke-linejoin="round" />
<polygon points="620.6,337.5 626.76,328.21 631.26,334.22" fill="#111"/>
<polyline points="660,129 625.4,169.2" fill="none" stroke="#000" stroke-width="1.3" stroke-linejoin="round" />
<polygon points="619.2,176.4 622.74,166.92 628.05,171.48" fill="#111"/>
<polyline points="622.5,73.75 567.68,138.18" fill="none" stroke="#000" stroke-width="1.3" stroke-linejoin="round" />
<polygon points="561.2,145.8 565.01,135.92 570.35,140.45" fill="#111"/>
<polyline points="293,172.5 411.77,125.54" fill="none" stroke="#000" stroke-width="1.3" stroke-linejoin="round" />
<polygon points="422,121.5 412.87,128.33 410.67,122.75" fill="#111"/>
<polyline points="431.4,227.3 378.04,190.27" fill="none" stroke="#000" stroke-width="1.3" stroke-linejoin="round" />
<polygon points="369,184 379.75,187.81 376.33,192.74" fill="#111"/>
<polyline points="412.5,322.5 369.33,400.38" fill="none" stroke="#000" stroke-width="1.3" stroke-linejoin="round" />
<polygon points="364,410 366.71,398.92 371.96,401.83" fill="#111"/>
<path d="M32.4,575.7 L32.4,594.4 L28.2,594.4 L28.2,581.6 L23.5,584 L23.5,580 Q26.8,578.5 28.5,575.7 Z" fill="#000" stroke="#000" stroke-width="0" stroke-linejoin="round" />
<path d="M755.8,573.3 L755.8,591.8 L751.6,591.8 L751.6,579.2 L746.9,581.6 L746.9,577.6 Q750.2,576.1 751.9,573.3 Z" fill="#000" stroke="#000" stroke-width="0" stroke-linejoin="round" />
<path d="M263.1,167.1 L263.1,185.8 L258.9,185.8 L258.9,173 L254.2,175.4 L254.2,171.4 Q257.5,169.9 259.2,167.1 Z" fill="#000" stroke="#000" stroke-width="0" stroke-linejoin="round" />
<path d="M452.5,217 L452.5,235.6 L448.3,235.6 L448.3,222.9 L443.6,225.3 L443.6,221.3 Q446.9,219.8 448.6,217 Z" fill="#000" stroke="#000" stroke-width="0" stroke-linejoin="round" />
<path d="M465.6,217 L465.6,235.6 L461.4,235.6 L461.4,222.9 L456.7,225.3 L456.7,221.3 Q460,219.8 461.7,217 Z" fill="#000" stroke="#000" stroke-width="0" stroke-linejoin="round" />
<path d="M420.2,295 L420.2,313.2 L416,313.2 L416,300.9 L411.3,303.3 L411.3,299.3 Q414.6,297.8 416.3,295 Z" fill="#000" stroke="#000" stroke-width="0" stroke-linejoin="round" />
<text x="323.8" y="701.2" font-size="26" font-weight="bold" stroke="#000" stroke-width="0.45">2</text>
<text x="447.8" y="705.2" font-size="26" font-weight="bold" stroke="#000" stroke-width="0.45">3</text>
<text x="562.8" y="704.2" font-size="26" font-weight="bold" stroke="#000" stroke-width="0.45">4</text>
<text x="777.3" y="525.6" font-size="26" font-weight="bold" stroke="#000" stroke-width="0.45">5</text>
<text x="93.8" y="381.2" font-size="26" font-weight="bold" stroke="#000" stroke-width="0.45">6</text>
<text x="772.8" y="349.2" font-size="26" font-weight="bold" stroke="#000" stroke-width="0.45">6</text>
<text x="697" y="312.1" font-size="26" font-weight="bold" stroke="#000" stroke-width="0.45">7</text>
<text x="672.8" y="125.2" font-size="26" font-weight="bold" stroke="#000" stroke-width="0.45">8</text>
<text x="627.8" y="69.2" font-size="26" font-weight="bold" stroke="#000" stroke-width="0.45">9</text>
<text x="266.5" y="186" font-size="26" font-weight="bold" stroke="#000" stroke-width="0.45">0</text>
<text x="424.1" y="313.4" font-size="26" font-weight="bold" stroke="#000" stroke-width="0.45">2</text>
</svg></body></html>
